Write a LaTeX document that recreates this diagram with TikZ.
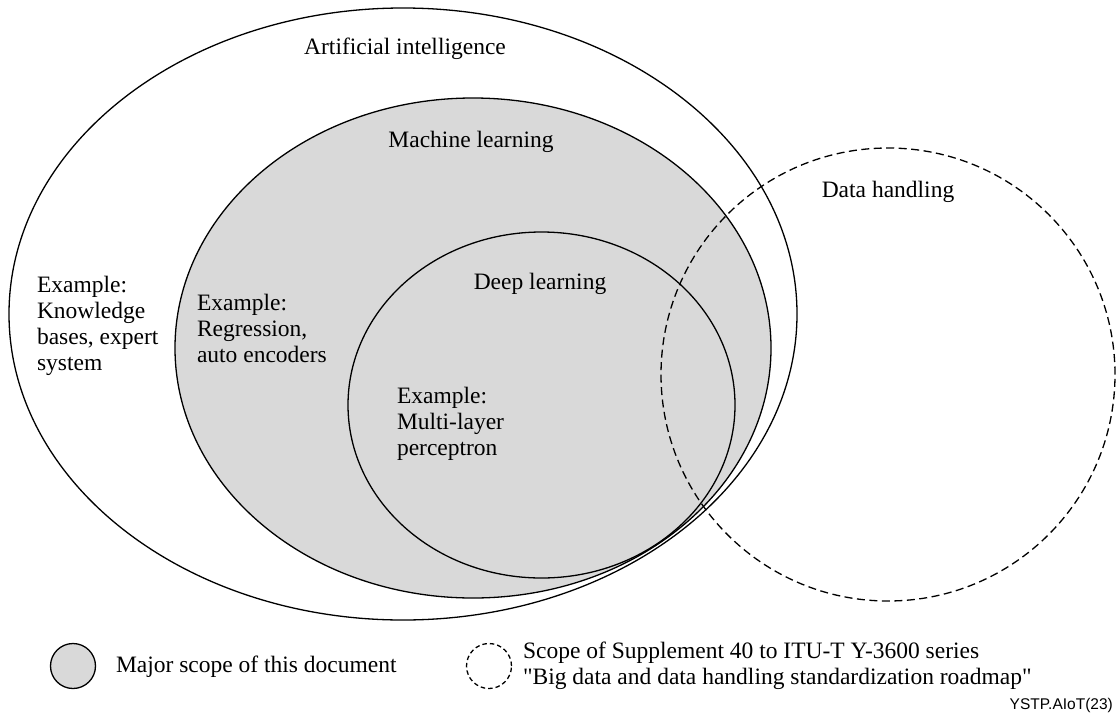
\documentclass[tikz,border=0pt]{standalone}
\usepackage{fontspec}
\setmainfont{Liberation Serif}
\newfontfamily\arialfont{Liberation Sans}
\usetikzlibrary{shapes.geometric}
\definecolor{scopegray}{RGB}{217,217,217}
\begin{document}
\begin{tikzpicture}[x=1pt,y=-1pt,
  lbl/.style={font=\fontsize{23.5}{26}\selectfont, inner sep=0pt, outer sep=0pt},
  blk/.style={lbl, align=left, anchor=north west},
  solidline/.style={draw=black, line width=1.3pt},
  dashline/.style={draw=black, line width=1.3pt, dash pattern=on 8pt off 4.5pt},
  region/.style={ellipse, inner sep=0pt, outer sep=0pt}]
\useasboundingbox (0,0) rectangle (1118,715);
% regions
\node[region, solidline, fill=white, minimum width=788pt, minimum height=612pt] (ai) at (403,314) {};
\node[region, solidline, fill=scopegray, minimum width=596pt, minimum height=500pt] (ml) at (473,348) {};
\node[region, solidline, fill=scopegray, minimum width=387pt, minimum height=346pt] (dl) at (541.5,405) {};
\node[region, dashline, minimum width=454pt, minimum height=453pt] (dh) at (888,374.5) {};
% labels
\node[lbl, anchor=base] (aiT) at (405,54) {Artificial intelligence};
\node[lbl, anchor=base] (mlT) at (471,147) {Machine learning};
\node[lbl, anchor=base] (dlT) at (540,289) {Deep learning};
\node[lbl, anchor=base] (dhT) at (888,197) {Data handling};
\node[blk] (aiEx) at (37,276) {Example:\\Knowledge\\bases, expert\\system};
\node[blk] (mlEx) at (197,294) {Example:\\Regression,\\auto encoders};
\node[blk] (dlEx) at (397,387) {Example:\\Multi-layer\\perceptron};
% legend
\node[circle, solidline, fill=scopegray, minimum size=45pt, inner sep=0pt] (legA) at (73,666) {};
\node[lbl, anchor=base west] (legAT) at (116,672) {Major scope of this document};
\node[circle, dashline, dash pattern=on 4.5pt off 3pt, minimum size=45pt, inner sep=0pt] (legB) at (489,666) {};
\node[blk] (legBT) at (523,642) {Scope of Supplement 40 to ITU-T Y-3600 series\\\textquotedbl Big data and data handling standardization roadmap\textquotedbl};
\node[inner sep=0pt, anchor=base east, font=\arialfont\fontsize{15.5}{18}\selectfont] (fig) at (1113,709) {YSTP.AIoT(23)};
\end{tikzpicture}
\end{document}
